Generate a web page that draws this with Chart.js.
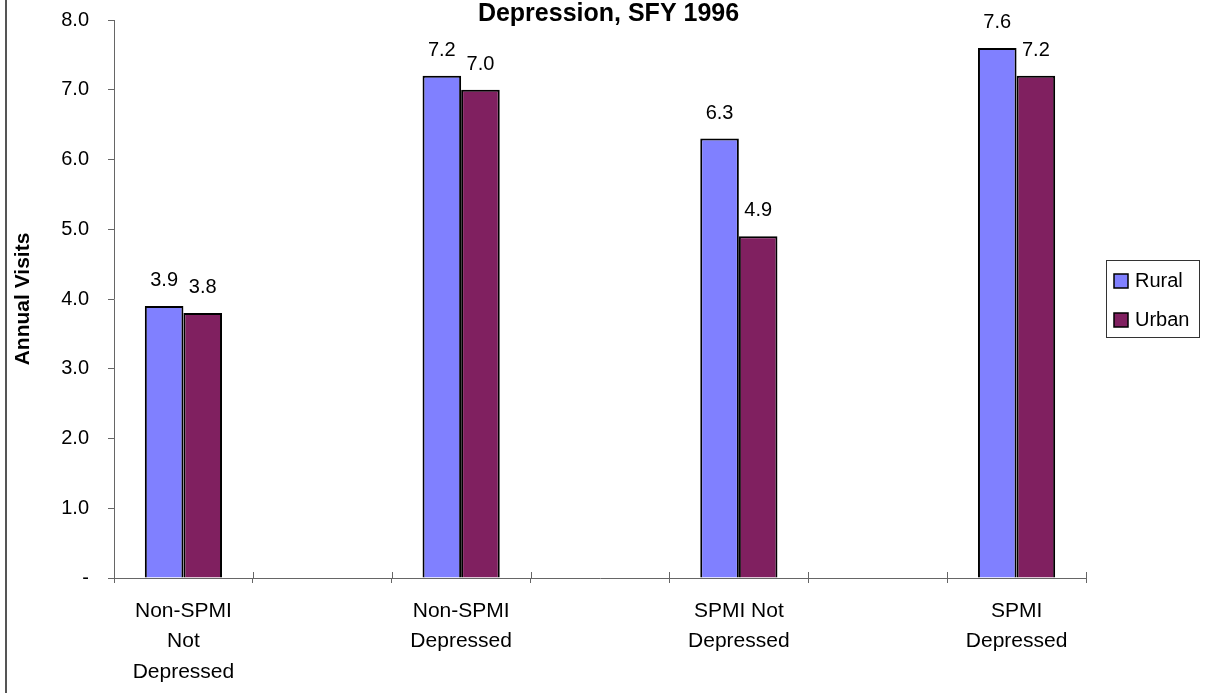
<!DOCTYPE html>
<html>
<head>
<meta charset="utf-8">
<script src="https://cdn.jsdelivr.net/npm/chart.js@4/dist/chart.umd.min.js"></script>
<style>
  html, body { margin: 0; padding: 0; background: #fff; }
  #wrap { width: 1209px; height: 693px; position: relative; }
</style>
</head>
<body>
<div id="wrap"><canvas id="c" width="1209" height="693"></canvas></div>
<script>
// Category slots; blank slots keep the gaps between the groups.
const categories = [
  ['Non-SPMI', 'Not', 'Depressed'],
  '',
  ['Non-SPMI', 'Depressed'],
  '',
  ['SPMI Not', 'Depressed'],
  '',
  ['SPMI', 'Depressed']
];
const ruralVisits = [3.9, null, 7.2, null, 6.3, null, 7.6];
const urbanVisits = [3.8, null, 7.0, null, 4.9, null, 7.2];
const yTicks = [0, 1, 2, 3, 4, 5, 6, 7, 8];
const chartTitle = 'Depression, SFY 1996';

const FONT = "'Liberation Sans', Arial, sans-serif";
const AXIS = '#666666';

// Title centred across the whole canvas
const pageTitle = {
  id: 'pageTitle',
  afterDraw(chart) {
    const ctx = chart.ctx;
    ctx.save();
    ctx.font = 'bold 25px ' + FONT;
    ctx.fillStyle = '#000';
    ctx.textAlign = 'center';
    ctx.textBaseline = 'alphabetic';
    ctx.fillText(chartTitle, chart.width / 2 + 4, 21);
    ctx.restore();
  }
};

// Value labels above each bar
const valueLabels = {
  id: 'valueLabels',
  afterDatasetsDraw(chart) {
    const ctx = chart.ctx;
    ctx.save();
    ctx.font = '20px ' + FONT;
    ctx.fillStyle = '#000';
    ctx.textAlign = 'center';
    ctx.textBaseline = 'alphabetic';
    chart.data.datasets.forEach((ds, i) => {
      chart.getDatasetMeta(i).data.forEach((bar, j) => {
        const v = ds.data[j];
        if (v === null || v === undefined) return;
        ctx.fillText(v.toFixed(1), bar.x, bar.y - 20);
      });
    });
    ctx.restore();
  }
};

// Category-boundary ticks that cross the x axis, plus the left frame rule
const axisDecor = {
  id: 'axisDecor',
  afterDraw(chart) {
    const ctx = chart.ctx;
    const x = chart.scales.x;
    ctx.save();
    ctx.strokeStyle = AXIS;
    ctx.lineWidth = 1;
    for (let i = 0; i <= categories.length; i++) {
      const px = Math.round(x.getPixelForValue(i - 0.5)) + 0.5;
      ctx.beginPath();
      ctx.moveTo(px, x.top - 6);
      ctx.lineTo(px, x.top);
      ctx.stroke();
    }
    ctx.strokeStyle = '#555';
    ctx.lineWidth = 2;
    ctx.beginPath();
    ctx.moveTo(6, 0);
    ctx.lineTo(6, chart.height);
    ctx.stroke();
    ctx.restore();
  }
};

// Boxed legend on the right
const boxLegend = {
  id: 'boxLegend',
  afterDraw(chart) {
    const ctx = chart.ctx;
    const area = chart.chartArea;
    const mid = (area.top + area.bottom) / 2;
    const left = area.right + 20, w = 93, h = 77;
    const top = Math.round(mid - h / 2 - 1);
    ctx.save();
    ctx.strokeStyle = '#333';
    ctx.lineWidth = 1;
    ctx.strokeRect(left + 0.5, top + 0.5, w, h);
    ctx.font = '20px ' + FONT;
    ctx.textBaseline = 'middle';
    ctx.textAlign = 'left';
    chart.data.datasets.forEach((ds, i) => {
      const cy = top + 21 + i * 39;
      ctx.fillStyle = ds.backgroundColor;
      ctx.fillRect(left + 8, cy - 7, 14, 14);
      ctx.strokeStyle = '#000';
      ctx.lineWidth = 1.5;
      ctx.strokeRect(left + 8, cy - 7, 14, 14);
      ctx.fillStyle = '#000';
      ctx.fillText(ds.label, left + 29, cy);
    });
    ctx.restore();
  }
};

new Chart(document.getElementById('c'), {
  type: 'bar',
  data: {
    labels: categories,
    datasets: [
      { label: 'Rural', data: ruralVisits, backgroundColor: '#8080FF',
        borderColor: '#000', borderWidth: 2 },
      { label: 'Urban', data: urbanVisits, backgroundColor: '#802060',
        borderColor: '#000', borderWidth: 2 }
    ]
  },
  options: {
    responsive: false,
    animation: false,
    layout: { padding: { left: 0, right: 123, top: 20, bottom: 0 } },
    datasets: { bar: { categoryPercentage: 0.556, barPercentage: 1, skipNull: false } },
    plugins: {
      legend: { display: false },
      tooltip: { enabled: false },
      title: { display: false }
    },
    scales: {
      x: {
        afterFit(scale) { scale.height = 115; scale.paddingLeft = 0; scale.paddingRight = 0; },
        grid: { offset: true, drawOnChartArea: false, drawTicks: true, tickLength: 5, color: AXIS },
        border: { color: AXIS },
        ticks: {
          color: '#000',
          font: { family: FONT, size: 21, lineHeight: 1.45 },
          padding: 13,
          maxRotation: 0,
          autoSkip: false
        }
      },
      y: {
        min: 0, max: 8,
        afterFit(scale) { scale.width = 114; scale.paddingTop = 0; scale.paddingBottom = 0; },
        afterBuildTicks(scale) { scale.ticks = yTicks.map(v => ({ value: v })); },
        grid: { drawOnChartArea: false, drawTicks: true, tickLength: 6, color: AXIS },
        border: { color: AXIS },
        ticks: {
          color: '#000',
          font: { family: FONT, size: 20 },
          padding: 19,
          callback: v => v === 0 ? '-' : v.toFixed(1)
        },
        title: {
          display: true,
          text: 'Annual Visits',
          color: '#000',
          font: { family: FONT, size: 21, weight: 'bold' },
          padding: { top: 11, bottom: 0 }
        }
      }
    }
  },
  plugins: [pageTitle, valueLabels, axisDecor, boxLegend]
});
</script>
</body>
</html>
